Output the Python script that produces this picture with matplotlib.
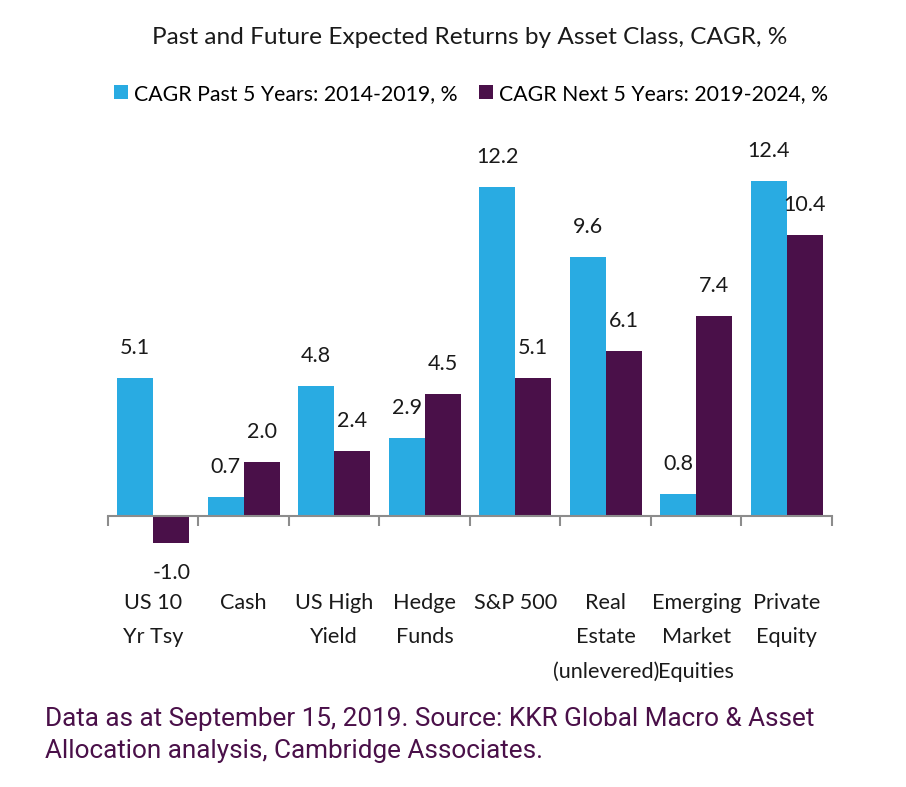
import matplotlib
matplotlib.use("Agg")
import matplotlib.pyplot as plt
import numpy as np
from matplotlib import font_manager

C_PAST = "#29abe2"
C_NEXT = "#4a1049"
C_AXIS = "#8c8c8c"

names = {f.name for f in font_manager.fontManager.ttflist}
FONT = "Liberation Sans Narrow" if "Liberation Sans Narrow" in names else "Roboto"
plt.rcParams["font.family"] = ["Lato", "DejaVu Sans"]

categories = ["US 10\nYr Tsy", "Cash", "US High\nYield", "Hedge\nFunds", "S&P 500",
              "Real\nEstate\n(unlevered)", "Emerging\nMarket\nEquities", "Private\nEquity"]
past_5y = [5.1, 0.7, 4.8, 2.9, 12.2, 9.6, 0.8, 12.4]
next_5y = [-1.0, 2.0, 2.4, 4.5, 5.1, 6.1, 7.4, 10.4]
legend_labels = ["CAGR Past 5 Years: 2014-2019, %", "CAGR Next 5 Years: 2019-2024, %"]

fig = plt.figure(figsize=(9.06, 7.87), dpi=100)
ax = fig.add_axes([0.1192, 0.2929, 0.7991, 0.5146])

x = np.arange(len(categories))
w = 0.4
b1 = ax.bar(x - w / 2, past_5y, width=w, color=C_PAST, label=legend_labels[0])
b2 = ax.bar(x + w / 2, next_5y, width=w, color=C_NEXT, label=legend_labels[1])

for bars, vals in ((b1, past_5y), (b2, next_5y)):
    for rect, v in zip(bars, vals):
        off = 21.6 if v >= 0 else -21.6
        ax.annotate(f"{v:.1f}", xy=(rect.get_x() + rect.get_width() / 2, v),
                    xytext=(0, off), textcoords="offset points",
                    ha="center", va="center", fontsize=15.5, color="#1a1a1a")

ax.set_xlim(-0.5, len(categories) - 0.5)
ax.set_ylim(-1.5, 13.5)
for s in ("top", "right", "left"):
    ax.spines[s].set_visible(False)
ax.spines["bottom"].set_position(("data", 0))
ax.spines["bottom"].set_color(C_AXIS)
ax.spines["bottom"].set_linewidth(1.5)
ax.set_yticks([])
ax.set_xticks(np.arange(len(categories) + 1) - 0.5)
ax.set_xticklabels([])
ax.tick_params(axis="x", length=7, width=1.5, color=C_AXIS, direction="out")

# category names sit well below the zero line, like the original
for i, lab in enumerate(categories):
    ax.text(i, -2.85, lab, ha="center", va="top", fontsize=15.6, color="#1a1a1a",
            linespacing=1.9)

fig.text(0.518, 0.952, "Past and Future Expected Returns by Asset Class, CAGR, %",
         ha="center", va="center", fontsize=17.6, color="#1a1a1a")

leg = fig.legend(handles=[b1, b2], loc="center", bbox_to_anchor=(0.52, 0.881), ncol=2,
                 frameon=False, fontsize=15.3, handlelength=0.65, handleheight=0.65,
                 handletextpad=0.3, columnspacing=1.0)

fig.text(0.05, 0.066, "Data as at September 15, 2019. Source: KKR Global Macro & Asset\n"
         "Allocation analysis, Cambridge Associates.", ha="left", va="center",
         fontsize=18.8, color=C_NEXT, linespacing=1.42, family=[FONT, "DejaVu Sans"])

fig.savefig("out.png", dpi=100, facecolor="white")
